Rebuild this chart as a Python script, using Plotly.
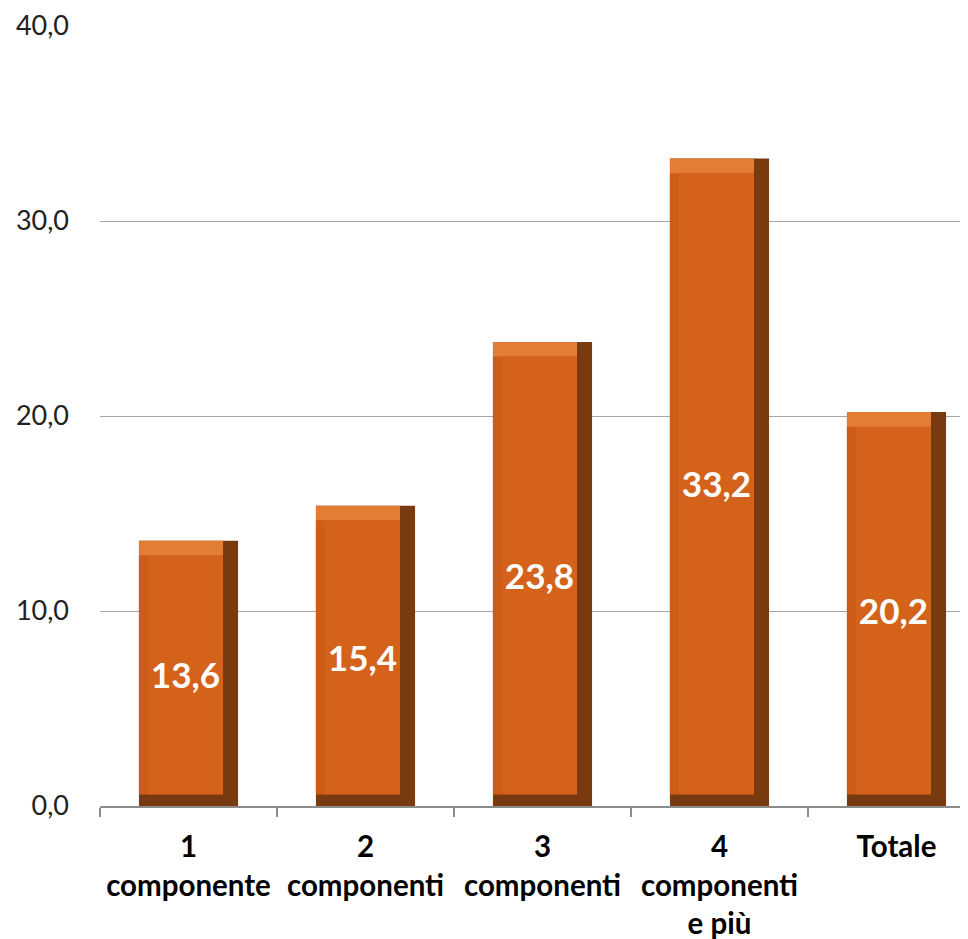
import plotly.graph_objects as go

categories = ["1<br>componente", "2<br>componenti", "3<br>componenti", "4<br>componenti<br>e più", "Totale"]
values = [13.6, 15.4, 23.8, 33.2, 20.2]
labels = ["13,6", "15,4", "23,8", "33,2", "20,2"]

W = 0.56          # bar width (category units)
BR = 0.085        # right bevel (x units)
BL = 0.05         # left bevel
BB = 0.6          # bottom bevel (y units)
BT = 0.75         # top bevel

fig = go.Figure()
# dark base (right + bottom shadow)
fig.add_trace(go.Bar(x=categories, y=values, width=W, offset=-W/2,
                     marker=dict(color="#7a3a10", line=dict(width=0)),
                     hoverinfo="skip"))
# light face (top highlight)
fig.add_trace(go.Bar(x=categories, y=[v - BB for v in values], base=BB, width=W - BR, offset=-W/2,
                     marker=dict(color="#e27d33", line=dict(width=0)),
                     hoverinfo="skip"))
# left strip
fig.add_trace(go.Bar(x=categories, y=[v - BB - BT for v in values], base=BB, width=W - BR, offset=-W/2,
                     marker=dict(color="#cc5c18", line=dict(width=0)),
                     hoverinfo="skip"))
# main face
fig.add_trace(go.Bar(x=categories, y=[v - BB - BT for v in values], base=BB, width=W - BR - BL, offset=-W/2 + BL,
                     marker=dict(color="#d4621a", line=dict(width=0)),
                     text=labels, textposition="inside", insidetextanchor="middle",
                     textangle=0,
                     textfont=dict(family="Lato", size=36, color="white", weight="bold"),
                     hovertemplate="%{y}<extra></extra>"))

fig.update_layout(
    width=960, height=931,
    margin=dict(l=92, r=0, t=18, b=133),
    barmode="overlay",
    showlegend=False,
    plot_bgcolor="white",
    paper_bgcolor="white",
    separators=",.",
)
fig.update_xaxes(
    type="category",
    range=[-0.5, 4.404],
    tickmode="array", tickvals=categories, ticktext=[f"<b>{c}</b>" for c in categories],
    tickfont=dict(family="Lato", size=29.5, color="#000000"),
    tickangle=0,
    showline=True, linecolor="#8c8c8c", linewidth=2,
    ticks="outside", tickson="boundaries", ticklen=9, tickcolor="#8c8c8c", tickwidth=2,
    ticklabelstandoff=14,
    showgrid=False, zeroline=False, automargin=False,
)
fig.update_yaxes(
    range=[0, 40], dtick=10, tickformat=".1f",
    tickfont=dict(family="Lato", size=27, color="#222222"),
    showgrid=True, gridcolor="#a6a6a6", gridwidth=1,
    showline=False, zeroline=False, ticks="",
    ticklabelstandoff=30, automargin=False,
)

fig.write_html("out.html")
